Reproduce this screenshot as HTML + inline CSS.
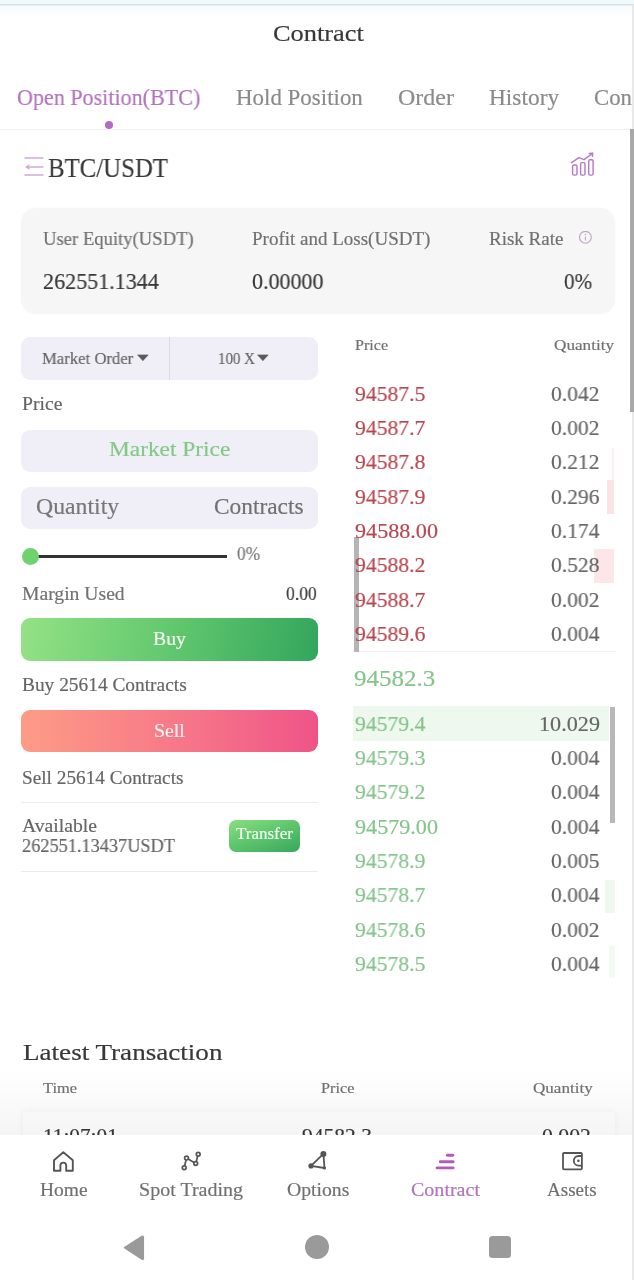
<!DOCTYPE html>
<html lang="en">
<head>
<meta charset="utf-8">
<title>Contract</title>
<style>
html,body{margin:0;padding:0;background:#fff;}
body{width:634px;height:1280px;position:relative;overflow:hidden;font-family:"Liberation Serif",serif;}
.t{position:absolute;white-space:nowrap;line-height:1;transform-origin:0 0;z-index:2;-webkit-text-stroke:0.18px currentColor;will-change:transform;}
.abs{position:absolute;}
#status{left:0;top:0;width:634px;height:4px;background:#eff8fc;}
#statline{left:0;top:4px;width:634px;height:2px;background:linear-gradient(#d5dbde,#eef2f4);}
#hdrshade{left:0;top:6px;width:634px;height:12px;background:linear-gradient(#f6fbfd,#ffffff);}
#tabline{left:0;top:129px;width:630px;height:1px;background:#f0f0f0;}
#dot{left:105px;top:121px;width:8px;height:8px;border-radius:50%;background:#b36bbf;}
#scroll1{left:630px;top:129px;width:4px;height:283px;background:#a9a9a9;z-index:8;}
#edge{left:632px;top:5px;width:1.5px;height:1275px;background:#e9e9e9;z-index:7;}
#card{left:21px;top:207.5px;width:594px;height:106.5px;border-radius:15px;background:#f6f6f6;box-shadow:0 0 4px rgba(0,0,0,0.025);}
.box{position:absolute;background:#f0eff7;border-radius:9px;}
#sel{left:21px;top:337px;width:297px;height:43px;}
#seldiv{left:169px;top:337px;width:1px;height:43px;background:#dddbe6;}
#mp{left:21px;top:429.5px;width:296.5px;height:42px;}
#qty{left:21px;top:486.5px;width:296.5px;height:42px;}
#sline{left:34px;top:555px;width:193px;height:2.5px;background:#333;}
#knob{left:21.5px;top:547.5px;width:17.5px;height:17.5px;border-radius:50%;background:#6fd26f;}
#buy{left:21px;top:618px;width:297px;height:43px;border-radius:9px;background:linear-gradient(100deg,#94e285 0%,#62c86e 50%,#33a65c 100%);}
#sell{left:21px;top:710px;width:297px;height:42px;border-radius:9px;background:linear-gradient(90deg,#fd9c86 0%,#f77a88 50%,#ef5489 100%);}
#div1{left:21px;top:802px;width:297px;height:1px;background:#ececec;}
#div2{left:21px;top:871px;width:297px;height:1px;background:#ececec;}
#transfer{left:229px;top:820px;width:71px;height:32px;border-radius:7px;background:linear-gradient(160deg,#8adf80 0%,#5cc46c 50%,#38a85c 100%);}
.dep{position:absolute;}
#ob1{left:354px;top:651px;width:262px;height:1px;background:#f0f0f0;}
#scroll2{left:354px;top:537px;width:4.5px;height:115px;background:#b5b5b5;z-index:1;}
#hl{left:352.5px;top:705.5px;width:256.5px;height:35px;background:#eef8ee;}
#scroll3{left:609.5px;top:707px;width:5px;height:116px;background:#b8b8b8;}
#lt{left:0;top:1110px;width:634px;height:40px;}
#ltcard{left:22.5px;top:1111.5px;width:592px;height:40px;background:#fff;box-shadow:0 0 8px rgba(0,0,0,0.05);}
#tabbar{left:0;top:1135px;width:634px;height:145px;background:#fff;z-index:5;}
#tabshadow{left:0;top:1070px;width:632px;height:65px;background:linear-gradient(rgba(0,0,0,0),rgba(0,0,0,0.04));z-index:4;}
.ic{position:absolute;z-index:6;}
.nav{position:absolute;z-index:6;background:#9a9a9a;}
.t.tb{z-index:6;}
</style>
</head>
<body>
<div class="abs" id="status"></div>
<div class="abs" id="statline"></div>
<div class="abs" id="hdrshade"></div>
<div class="abs" id="tabline"></div>
<div class="abs" id="dot"></div>
<div class="abs" id="edge"></div>
<div class="abs" id="scroll1"></div>

<!-- pair icon -->
<svg class="ic" style="left:22px;top:154px;z-index:2" width="24" height="24" viewBox="0 0 24 24">
  <g stroke="#cfaad8" stroke-width="1.45" fill="none" stroke-linecap="round">
    <line x1="3" y1="4" x2="21" y2="4"/>
    <line x1="8" y1="13" x2="21" y2="13"/>
    <line x1="3" y1="21" x2="21" y2="21"/>
  </g>
  <path d="M3 13 L7.5 10.2 L7.5 15.8 Z" fill="#cfaad8"/>
</svg>
<!-- chart icon -->
<svg class="ic" style="left:568px;top:150px;z-index:2" width="30" height="30" viewBox="0 0 30 30">
  <g stroke="#b47cc4" stroke-width="1.45" fill="none" stroke-linejoin="round" stroke-linecap="round">
    <rect x="4.6" y="14.9" width="4.4" height="10.2" rx="1.4"/>
    <rect x="12.6" y="12.6" width="4.4" height="12.5" rx="1.4"/>
    <rect x="20.7" y="9.8" width="4.4" height="15.3" rx="1.4"/>
    <path d="M3.5 12.7 L11 7.6 L16 9.6 L24.5 3.3"/>
    <path d="M21.3 3.4 L24.6 3.2 L24.4 6.4"/>
  </g>
</svg>

<div class="abs" id="card"></div>
<svg class="ic" style="left:579px;top:231px;z-index:2" width="13" height="13" viewBox="0 0 13 13">
  <circle cx="6.4" cy="6.3" r="5.9" stroke="#bfa6c8" stroke-width="1.1" fill="none"/>
  <line x1="6.4" y1="5.4" x2="6.4" y2="9.6" stroke="#bfa6c8" stroke-width="1.1"/>
  <circle cx="6.4" cy="3.6" r="0.75" fill="#bfa6c8"/>
</svg>

<div class="box" id="sel"></div>
<div class="abs" id="seldiv"></div>
<svg class="ic" style="left:137px;top:354px;z-index:2" width="12" height="8" viewBox="0 0 12 8"><path d="M0.6 0.9 L11.2 0.9 L5.9 6.7 Z" fill="#5a5a5a" stroke="#5a5a5a" stroke-width="0.6" stroke-linejoin="round"/></svg>
<svg class="ic" style="left:256.5px;top:354px;z-index:2" width="12" height="8" viewBox="0 0 12 8"><path d="M0.6 0.9 L11.2 0.9 L5.9 6.7 Z" fill="#5a5a5a" stroke="#5a5a5a" stroke-width="0.6" stroke-linejoin="round"/></svg>
<div class="box" id="mp"></div>
<div class="box" id="qty"></div>
<div class="abs" id="sline"></div>
<div class="abs" id="knob"></div>
<div class="abs" id="buy"></div>
<div class="abs" id="sell"></div>
<div class="abs" id="div1"></div>
<div class="abs" id="transfer"></div>
<div class="abs" id="div2"></div>

<!-- depth bars -->
<div class="dep" style="left:612px;top:448px;width:2px;height:32px;background:#fbf0f1;"></div>
<div class="dep" style="left:606.5px;top:480px;width:7.5px;height:34px;background:#fce4e6;"></div>
<div class="dep" style="left:593.5px;top:549px;width:20.5px;height:34px;background:#fde6e8;"></div>
<div class="abs" id="ob1"></div>
<div class="abs" id="scroll2"></div>
<div class="abs" id="hl"></div>
<div class="abs" id="scroll3"></div>
<div class="dep" style="left:605px;top:880px;width:10px;height:33px;background:#eff8ef;"></div>
<div class="dep" style="left:609px;top:946px;width:6px;height:32px;background:#f3faf3;"></div>

<div class="abs" id="ltcard"></div>
<div class="abs" id="tabshadow"></div>
<div class="abs" id="tabbar"></div>

<!-- tab icons -->
<svg class="ic" style="left:50px;top:1148px" width="27" height="27" viewBox="0 0 27 27">
  <path d="M4 12.2 L13.3 4.3 L22.8 12.2 L22.8 22.8 L16.2 22.8 L16.2 17.5 A2.9 2.9 0 0 0 10.4 17.5 L10.4 22.8 L4 22.8 Z" stroke="#555" stroke-width="1.9" fill="none" stroke-linejoin="round"/>
</svg>
<svg class="ic" style="left:178px;top:1148px" width="26" height="26" viewBox="0 0 26 26">
  <g stroke="#555" stroke-width="1.7" fill="none">
    <line x1="6.2" y1="19.7" x2="8.5" y2="10.1"/>
    <line x1="8.5" y1="10.1" x2="17.7" y2="15.5"/>
    <line x1="17.7" y1="15.5" x2="20.2" y2="6.2"/>
    <circle cx="6.2" cy="19.7" r="1.9" fill="#fff"/>
    <circle cx="8.5" cy="10.1" r="1.9" fill="#fff"/>
    <circle cx="17.7" cy="15.5" r="1.9" fill="#fff"/>
    <circle cx="20.2" cy="6.2" r="1.9" fill="#fff"/>
  </g>
</svg>
<svg class="ic" style="left:304px;top:1148px" width="26" height="26" viewBox="0 0 26 26">
  <g stroke="#555" stroke-width="1.8" fill="none" stroke-linejoin="round">
    <path d="M19.4 5.9 L7 17.9 L20.5 20 Z"/>
  </g>
  <circle cx="19.4" cy="5.9" r="3" fill="#555"/>
  <circle cx="7" cy="17.9" r="2.6" fill="#555"/>
  <circle cx="20.5" cy="20" r="1.6" fill="#555"/>
</svg>
<svg class="ic" style="left:432px;top:1148px" width="26" height="26" viewBox="0 0 26 26">
  <g stroke="#b35ab9" stroke-width="2.9" stroke-linecap="round">
    <line x1="15.4" y1="7.2" x2="20.8" y2="7.2"/>
    <line x1="8.3" y1="13.7" x2="21.1" y2="13.7"/>
    <line x1="5.1" y1="19.9" x2="21.1" y2="19.9"/>
  </g>
</svg>
<svg class="ic" style="left:559px;top:1148px" width="26" height="26" viewBox="0 0 26 26">
  <g stroke="#555" stroke-width="1.8" fill="none">
    <rect x="4.0" y="5.0" width="18.9" height="16.3" rx="1"/>
    <path d="M22.9 8 L19.6 8 A4.8 4.8 0 0 0 19.6 17.6 L22.9 17.6"/>
  </g>
  <circle cx="19.4" cy="12.8" r="1.3" fill="#555"/>
</svg>

<!-- android nav -->
<svg class="ic" style="left:119px;top:1230.5px" width="30" height="32" viewBox="0 0 30 32">
  <path d="M5.5 16.7 L23 5.5 Q24.3 4.8 24.3 6.3 L24.3 27.5 Q24.3 29 23 28.2 Z" fill="#9a9a9a" stroke="#9a9a9a" stroke-width="1.5" stroke-linejoin="round"/>
</svg>
<div class="nav" style="left:305px;top:1234.5px;width:24px;height:24px;border-radius:50%;"></div>
<div class="nav" style="left:488.5px;top:1236px;width:22px;height:21.5px;border-radius:3.5px;"></div>

<span class="t " style="left:272.90px;top:22.00px;font-size:23.25px;color:#383838;transform:scaleX(1.1350);">Contract</span>
<span class="t " style="left:17.30px;top:87.00px;font-size:22.75px;color:#b272bc;transform:scaleX(0.9698);">Open Position(BTC)</span>
<span class="t " style="left:235.80px;top:87.00px;font-size:22.75px;color:#8a8a8a;transform:scaleX(1.0083);">Hold Position</span>
<span class="t " style="left:397.70px;top:87.00px;font-size:22.75px;color:#8a8a8a;transform:scaleX(1.0528);">Order</span>
<span class="t " style="left:489.30px;top:87.00px;font-size:22.75px;color:#8a8a8a;transform:scaleX(1.0271);">History</span>
<span class="t " style="left:594.00px;top:87.00px;font-size:22.75px;color:#8a8a8a;">Contract</span>
<span class="t " style="left:47.80px;top:154.00px;font-size:28.25px;color:#383838;transform:scaleX(0.8784);">BTC/USDT</span>
<span class="t " style="left:43.00px;top:229.00px;font-size:19.0px;color:#707070;transform:scaleX(0.9811);">User Equity(USDT)</span>
<span class="t " style="left:252.40px;top:229.00px;font-size:19.0px;color:#707070;">Profit and Loss(USDT)</span>
<span class="t " style="left:488.60px;top:229.00px;font-size:19.0px;color:#707070;">Risk Rate</span>
<span class="t " style="left:43.00px;top:271.00px;font-size:22.25px;color:#383838;transform:scaleX(0.9917);">262551.1344</span>
<span class="t " style="left:252.40px;top:271.00px;font-size:22.25px;color:#383838;transform:scaleX(0.9879);">0.00000</span>
<span class="t " style="left:564.40px;top:271.00px;font-size:22.25px;color:#383838;transform:scaleX(0.9451);">0%</span>
<span class="t " style="left:42.30px;top:350.00px;font-size:17.25px;color:#656565;transform:scaleX(0.9674);">Market Order</span>
<span class="t " style="left:218.40px;top:350.00px;font-size:17.25px;color:#656565;transform:scaleX(0.8633);">100 X</span>
<span class="t " style="left:22.00px;top:394.00px;font-size:19.25px;color:#656565;transform:scaleX(1.0228);">Price</span>
<span class="t " style="left:108.90px;top:438.00px;font-size:22.0px;color:#84c886;transform:scaleX(1.0617);">Market Price</span>
<span class="t " style="left:36.00px;top:495.00px;font-size:23.0px;color:#777777;transform:scaleX(1.0335);">Quantity</span>
<span class="t " style="left:214.00px;top:495.00px;font-size:23.0px;color:#707070;transform:scaleX(1.0156);">Contracts</span>
<span class="t " style="left:236.50px;top:545.00px;font-size:18.25px;color:#777777;transform:scaleX(0.9436);">0%</span>
<span class="t " style="left:22.30px;top:584.00px;font-size:19.25px;color:#707070;transform:scaleX(1.0194);">Margin Used</span>
<span class="t " style="left:286.40px;top:584.00px;font-size:19.25px;color:#383838;transform:scaleX(0.9126);">0.00</span>
<span class="t " style="left:153.06px;top:629.00px;font-size:19.75px;color:#f4fbf2;">Buy</span>
<span class="t " style="left:22.30px;top:675.00px;font-size:19.25px;color:#656565;transform:scaleX(1.0066);">Buy 25614 Contracts</span>
<span class="t " style="left:154.12px;top:721.00px;font-size:19.75px;color:#fdf0f2;">Sell</span>
<span class="t " style="left:22.00px;top:768.00px;font-size:19.25px;color:#656565;">Sell 25614 Contracts</span>
<span class="t " style="left:22.00px;top:816.00px;font-size:19.25px;color:#656565;transform:scaleX(1.0221);">Available</span>
<span class="t " style="left:22.00px;top:836.00px;font-size:19.25px;color:#656565;transform:scaleX(0.9503);">262551.13437USDT</span>
<span class="t " style="left:236.00px;top:826.00px;font-size:16.0px;color:#f3fbef;transform:scaleX(1.0629);">Transfer</span>
<span class="t " style="left:354.50px;top:337.00px;font-size:15.25px;color:#707070;transform:scaleX(1.0550);">Price</span>
<span class="t " style="left:554.00px;top:337.00px;font-size:15.25px;color:#707070;transform:scaleX(1.1241);">Quantity</span>
<span class="t " style="left:354.50px;top:383.00px;font-size:22.0px;color:#b8464f;transform:scaleX(0.9846);">94587.5</span>
<span class="t " style="left:551.10px;top:383.00px;font-size:22.0px;color:#666666;transform:scaleX(0.9798);">0.042</span>
<span class="t " style="left:354.50px;top:417.00px;font-size:22.0px;color:#b8464f;transform:scaleX(0.9846);">94587.7</span>
<span class="t " style="left:551.10px;top:417.00px;font-size:22.0px;color:#666666;transform:scaleX(0.9798);">0.002</span>
<span class="t " style="left:354.50px;top:451.00px;font-size:22.0px;color:#b8464f;transform:scaleX(0.9846);">94587.8</span>
<span class="t " style="left:551.10px;top:451.00px;font-size:22.0px;color:#666666;transform:scaleX(0.9798);">0.212</span>
<span class="t " style="left:354.50px;top:486.00px;font-size:22.0px;color:#b8464f;transform:scaleX(0.9846);">94587.9</span>
<span class="t " style="left:551.10px;top:486.00px;font-size:22.0px;color:#666666;transform:scaleX(0.9798);">0.296</span>
<span class="t " style="left:354.50px;top:520.00px;font-size:22.0px;color:#b8464f;transform:scaleX(1.0061);">94588.00</span>
<span class="t " style="left:551.10px;top:520.00px;font-size:22.0px;color:#666666;transform:scaleX(0.9798);">0.174</span>
<span class="t " style="left:354.50px;top:554.00px;font-size:22.0px;color:#b8464f;transform:scaleX(0.9846);">94588.2</span>
<span class="t " style="left:551.10px;top:554.00px;font-size:22.0px;color:#666666;transform:scaleX(0.9798);">0.528</span>
<span class="t " style="left:354.50px;top:589.00px;font-size:22.0px;color:#b8464f;transform:scaleX(0.9846);">94588.7</span>
<span class="t " style="left:551.10px;top:589.00px;font-size:22.0px;color:#666666;transform:scaleX(0.9798);">0.002</span>
<span class="t " style="left:354.50px;top:623.00px;font-size:22.0px;color:#b8464f;transform:scaleX(0.9846);">94589.6</span>
<span class="t " style="left:551.10px;top:623.00px;font-size:22.0px;color:#666666;transform:scaleX(0.9798);">0.004</span>
<span class="t " style="left:354.00px;top:667.00px;font-size:23.5px;color:#85c48b;transform:scaleX(1.0632);">94582.3</span>
<span class="t " style="left:354.50px;top:713.00px;font-size:22.0px;color:#85c48b;transform:scaleX(0.9846);">94579.4</span>
<span class="t " style="left:538.60px;top:713.00px;font-size:22.0px;color:#666666;transform:scaleX(1.0083);">10.029</span>
<span class="t " style="left:354.50px;top:747.00px;font-size:22.0px;color:#85c48b;transform:scaleX(0.9846);">94579.3</span>
<span class="t " style="left:551.10px;top:747.00px;font-size:22.0px;color:#666666;transform:scaleX(0.9798);">0.004</span>
<span class="t " style="left:354.50px;top:781.00px;font-size:22.0px;color:#85c48b;transform:scaleX(0.9846);">94579.2</span>
<span class="t " style="left:551.10px;top:781.00px;font-size:22.0px;color:#666666;transform:scaleX(0.9798);">0.004</span>
<span class="t " style="left:354.50px;top:816.00px;font-size:22.0px;color:#85c48b;transform:scaleX(1.0061);">94579.00</span>
<span class="t " style="left:551.10px;top:816.00px;font-size:22.0px;color:#666666;transform:scaleX(0.9798);">0.004</span>
<span class="t " style="left:354.50px;top:850.00px;font-size:22.0px;color:#85c48b;transform:scaleX(0.9846);">94578.9</span>
<span class="t " style="left:551.10px;top:850.00px;font-size:22.0px;color:#666666;transform:scaleX(0.9798);">0.005</span>
<span class="t " style="left:354.50px;top:884.00px;font-size:22.0px;color:#85c48b;transform:scaleX(0.9846);">94578.7</span>
<span class="t " style="left:551.10px;top:884.00px;font-size:22.0px;color:#666666;transform:scaleX(0.9798);">0.004</span>
<span class="t " style="left:354.50px;top:919.00px;font-size:22.0px;color:#85c48b;transform:scaleX(0.9846);">94578.6</span>
<span class="t " style="left:551.10px;top:919.00px;font-size:22.0px;color:#666666;transform:scaleX(0.9798);">0.002</span>
<span class="t " style="left:354.50px;top:953.00px;font-size:22.0px;color:#85c48b;transform:scaleX(0.9846);">94578.5</span>
<span class="t " style="left:551.10px;top:953.00px;font-size:22.0px;color:#666666;transform:scaleX(0.9798);">0.004</span>
<span class="t " style="left:22.50px;top:1042.00px;font-size:22.75px;color:#383838;transform:scaleX(1.1910);">Latest Transaction</span>
<span class="t " style="left:43.30px;top:1080.00px;font-size:15.25px;color:#707070;transform:scaleX(1.0783);">Time</span>
<span class="t " style="left:320.80px;top:1080.00px;font-size:15.25px;color:#707070;transform:scaleX(1.0677);">Price</span>
<span class="t " style="left:533.00px;top:1080.00px;font-size:15.25px;color:#707070;transform:scaleX(1.1185);">Quantity</span>
<span class="t clip" style="left:43.00px;top:1126.00px;font-size:21.25px;color:#383838;">11:07:01</span>
<span class="t clip" style="left:302.00px;top:1126.00px;font-size:21.25px;color:#383838;transform:scaleX(1.0127);">94582.3</span>
<span class="t clip" style="left:542.00px;top:1126.00px;font-size:21.25px;color:#383838;transform:scaleX(1.0235);">0.002</span>
<span class="t tb" style="left:39.70px;top:1181.00px;font-size:18.5px;color:#707070;transform:scaleX(1.0519);">Home</span>
<span class="t tb" style="left:138.60px;top:1181.00px;font-size:18.5px;color:#707070;transform:scaleX(1.0830);">Spot Trading</span>
<span class="t tb" style="left:286.60px;top:1181.00px;font-size:18.5px;color:#707070;transform:scaleX(1.0644);">Options</span>
<span class="t tb" style="left:410.80px;top:1181.00px;font-size:18.5px;color:#b272bc;transform:scaleX(1.0824);">Contract</span>
<span class="t tb" style="left:547.20px;top:1181.00px;font-size:18.5px;color:#707070;transform:scaleX(1.0301);">Assets</span>
</body>
</html>
